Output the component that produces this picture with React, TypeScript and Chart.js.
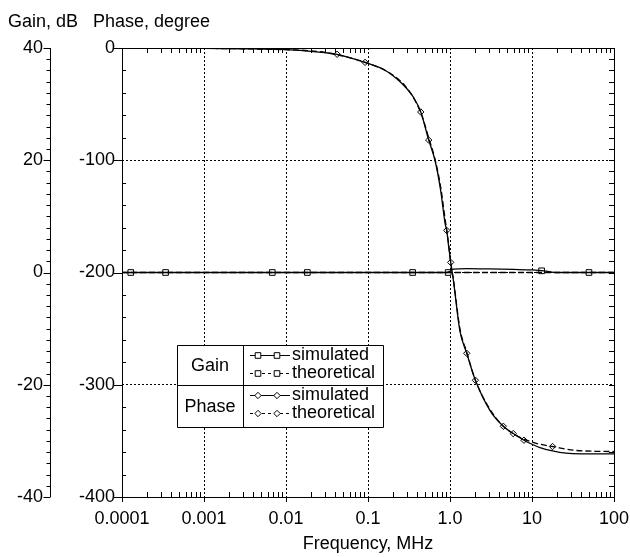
import React, { useEffect, useRef } from 'react';
import { Chart, registerables } from 'chart.js';

Chart.register(...registerables);

const FONT = "'Liberation Sans', Arial, Helvetica, sans-serif";

// ---- axis ticks ----
const xTickValues = [0.0001, 0.001, 0.01, 0.1, 1, 10, 100];
const xTickLabels = ['0.0001', '0.001', '0.01', '0.1', '1.0', '10', '100'];
const gainTickValues = [-40, -20, 0, 20, 40];
const phaseTickValues = [-400, -300, -200, -100, 0];

// ---- gain (dB) ----
const gainSimFreq = [0.0001, 0.5, 0.9, 1.0, 1.1, 1.6, 3, 6, 10, 14, 20, 100];
const gainSimDb = [0, 0, 0, 0.2, 0.6, 0.7, 0.65, 0.55, 0.45, 0.3, 0, 0];
const gainTheoFreq = [0.0001, 1, 10, 100];
const gainTheoDb = [0, 0, 0, 0];

const gainSimMarkFreq = [0.000128, 0.0068, 0.35, 13.1];
const gainSimMarkDb = [0, 0, 0, 0.3];
const gainTheoMarkFreq = [0.00034, 0.0182, 0.95, 49.5];
const gainTheoMarkDb = [0, 0, 0, 0];

// ---- phase (degree) ----
const phaseSimFreq = [0.0001, 0.001, 0.003, 0.01, 0.02, 0.03, 0.042, 0.092, 0.15, 0.2, 0.25, 0.3, 0.356, 0.44, 0.55, 0.656, 0.77, 0.87, 0.912, 0.96, 1.02, 1.1, 1.32, 1.6, 2.04, 3.08, 4.47, 5.9, 7.98, 10, 12.5, 17.8, 26, 40, 100];
const phaseSimDeg = [0, -0.3, -0.7, -1.5, -3, -4.2, -5.6, -12.8, -18.5, -24.5, -30.5, -36.5, -43.5, -57, -82, -100, -127, -156, -162.5, -176, -191, -207, -252, -272, -296, -323, -337, -343.5, -349.4, -353, -356, -359, -361, -361.5, -361.5];
const phaseTheoFreq = [0.0001, 0.01, 0.03, 0.092, 0.2, 0.3, 0.44, 0.55, 0.656, 0.77, 0.87, 0.96, 1.02, 1.1, 1.32, 1.6, 2.04, 3.08, 4.47, 5.9, 7.98, 10, 12.5, 17.8, 32, 60, 100];
const phaseTheoDeg = [0, -1.5, -4, -12.8, -24, -36, -57.5, -80, -99, -124, -152, -174, -191, -206, -250, -271, -296, -322, -337, -343.5, -348.5, -351, -353, -355, -358.3, -359.3, -359.5];

const phaseSimMarkFreq = [0.042, 0.44, 0.912, 1.6, 4.47, 7.98];
const phaseSimMarkDeg = [-5.6, -57, -162.5, -272, -337, -349.4];
const phaseTheoMarkFreq = [0.092, 0.55, 1.02, 2.04, 5.9, 17.8];
const phaseTheoMarkDeg = [-12.8, -82, -191, -296, -343.5, -355];

// ---- text ----
const xTitle = 'Frequency, MHz';
const gainTitle = 'Gain, dB';
const phaseTitle = 'Phase, degree';
const legendGroups = ['Gain', 'Phase'];
const legendEntries = ['simulated', 'theoretical'];

const pts = (xs: number[], ys: number[]) => xs.map((x, i) => ({ x, y: ys[i] }));

const DASH = [6, 3];

function drawMarker(ctx: CanvasRenderingContext2D, kind: 'rect' | 'diamond', x: number, y: number) {
  ctx.save();
  ctx.setLineDash([]);
  ctx.beginPath();
  if (kind === 'rect') {
    ctx.rect(x - 2.8, y - 2.8, 5.6, 5.6);
  } else {
    ctx.moveTo(x, y - 3.2);
    ctx.lineTo(x + 3.2, y);
    ctx.lineTo(x, y + 3.2);
    ctx.lineTo(x - 3.2, y);
    ctx.closePath();
  }
  ctx.fillStyle = '#fff';
  ctx.fill();
  ctx.strokeStyle = '#000';
  ctx.lineWidth = 1;
  ctx.stroke();
  ctx.restore();
}

const framePlugin = {
  id: 'frame',
  afterDraw(chart: any) {
    const ctx: CanvasRenderingContext2D = chart.ctx;
    const xs = chart.scales.x;
    const yp = chart.scales.phase;
    const yg = chart.scales.gain;
    const { left, right, top, bottom } = chart.chartArea;
    const r = (v: number) => Math.round(v) + 0.5;
    ctx.save();
    ctx.strokeStyle = '#000';
    ctx.lineWidth = 1;
    ctx.setLineDash([]);

    // plot frame
    ctx.strokeRect(r(left), r(top), Math.round(right) - Math.round(left), Math.round(bottom) - Math.round(top));

    ctx.beginPath();
    // x minor/major ticks
    for (let d = -4; d <= 2; d++) {
      const dec = Math.pow(10, d);
      const px = r(xs.getPixelForValue(dec));
      ctx.moveTo(px, bottom);
      ctx.lineTo(px, bottom + 5);
      if (d === 2) break;
      for (let m = 2; m <= 9; m++) {
        const p = r(xs.getPixelForValue(m * dec));
        ctx.moveTo(p, top);
        ctx.lineTo(p, top + 5);
        ctx.moveTo(p, bottom);
        ctx.lineTo(p, bottom - 5);
      }
    }
    // phase axis ticks
    for (let v = -400; v <= 0; v += 20) {
      const py = r(yp.getPixelForValue(v));
      if (v % 100 === 0) {
        ctx.moveTo(left - 8, py);
        ctx.lineTo(left, py);
      } else {
        ctx.moveTo(left, py);
        ctx.lineTo(left + 4, py);
      }
    }
    // gain axis line + ticks, right side ticks
    const gx = r(yg.right);
    ctx.moveTo(gx, top);
    ctx.lineTo(gx, bottom);
    for (let v = -40; v <= 40; v += 2) {
      const py = r(yg.getPixelForValue(v));
      if (v % 20 === 0) {
        ctx.moveTo(gx - 7, py);
        ctx.lineTo(gx, py);
      } else {
        ctx.moveTo(gx - 4, py);
        ctx.lineTo(gx, py);
      }
      ctx.moveTo(right - 5, py);
      ctx.lineTo(right, py);
    }
    ctx.stroke();

    // axis titles on top
    ctx.fillStyle = '#000';
    ctx.font = `18px ${FONT}`;
    ctx.textBaseline = 'middle';
    ctx.textAlign = 'left';
    ctx.fillText(gainTitle, 8, 22);
    ctx.fillText(phaseTitle, 93, 22);

    // legend table
    const lx0 = 177.5, lx1 = 383.5, ly0 = 345.5, ly1 = 427.5, ldiv = 243.5, lmid = 385.5;
    ctx.fillStyle = '#fff';
    ctx.fillRect(lx0, ly0, lx1 - lx0, ly1 - ly0);
    ctx.beginPath();
    ctx.rect(lx0, ly0, lx1 - lx0, ly1 - ly0);
    ctx.moveTo(ldiv, ly0);
    ctx.lineTo(ldiv, ly1);
    ctx.moveTo(lx0, lmid);
    ctx.lineTo(lx1, lmid);
    ctx.stroke();

    ctx.fillStyle = '#000';
    ctx.textAlign = 'center';
    ctx.fillText(legendGroups[0], 210, 366);
    ctx.fillText(legendGroups[1], 210, 407);
    const rows = [355, 373, 395, 413];
    rows.forEach((yy, i) => {
      const kind = i < 2 ? 'rect' : 'diamond';
      const dashed = i % 2 === 1;
      ctx.save();
      ctx.beginPath();
      ctx.setLineDash(dashed ? [3, 3] : []);
      ctx.moveTo(250, yy + 0.5);
      ctx.lineTo(290, yy + 0.5);
      ctx.stroke();
      ctx.restore();
      drawMarker(ctx, kind as any, 258, yy + 0.5);
      drawMarker(ctx, kind as any, 277, yy + 0.5);
      ctx.fillStyle = '#000';
      ctx.textAlign = 'left';
      ctx.fillText(legendEntries[i % 2], 292, yy);
    });
    ctx.restore();
  },
};

export default function App() {
  const ref = useRef<HTMLCanvasElement>(null);
  useEffect(() => {
    const lineDs = (label: string, data: any, axis: string, dashed: boolean) => ({
      label,
      data,
      yAxisID: axis,
      showLine: true,
      borderColor: '#000',
      backgroundColor: '#000',
      borderWidth: 1.3,
      borderDash: dashed ? DASH : [],
      pointRadius: 0,
      fill: false,
      cubicInterpolationMode: 'monotone',
    });
    const markDs = (label: string, data: any, axis: string, style: string, radius: number) => ({
      label,
      data,
      yAxisID: axis,
      showLine: false,
      pointStyle: style,
      pointRadius: radius,
      pointBackgroundColor: '#fff',
      pointBorderColor: '#000',
      pointBorderWidth: 1,
    });
    const chart = new Chart(ref.current as HTMLCanvasElement, {
      type: 'scatter',
      data: {
        datasets: [
          lineDs('Gain simulated', pts(gainSimFreq, gainSimDb), 'gain', false),
          lineDs('Gain theoretical', pts(gainTheoFreq, gainTheoDb), 'gain', true),
          lineDs('Phase simulated', pts(phaseSimFreq, phaseSimDeg), 'phase', false),
          lineDs('Phase theoretical', pts(phaseTheoFreq, phaseTheoDeg), 'phase', true),
          markDs('Gain sim marks', pts(gainSimMarkFreq, gainSimMarkDb), 'gain', 'rect', 4),
          markDs('Gain theo marks', pts(gainTheoMarkFreq, gainTheoMarkDb), 'gain', 'rect', 4),
          markDs('Phase sim marks', pts(phaseSimMarkFreq, phaseSimMarkDeg), 'phase', 'rectRot', 3.2),
          markDs('Phase theo marks', pts(phaseTheoMarkFreq, phaseTheoMarkDeg), 'phase', 'rectRot', 3.2),
        ] as any,
      },
      options: {
        animation: false,
        responsive: false,
        devicePixelRatio: 1,
        layout: { padding: { left: 0, right: 16, top: 48, bottom: 0 } },
        plugins: { legend: { display: false }, tooltip: { enabled: false }, title: { display: false } },
        scales: {
          x: {
            type: 'logarithmic',
            position: 'bottom',
            min: 0.0001,
            max: 100,
            afterBuildTicks: (s: any) => {
              s.ticks = xTickValues.map((v) => ({ value: v }));
            },
            afterFit: (s: any) => {
              s.height = 60;
              s.paddingLeft = 0;
              s.paddingRight = 0;
            },
            ticks: {
              autoSkip: false,
              maxRotation: 0,
              padding: 11,
              color: '#000',
              font: { family: FONT, size: 18 },
              callback: (_v: any, i: number) => xTickLabels[i],
            },
            grid: { color: '#000', lineWidth: 1, drawTicks: false },
            border: { display: false, dash: [2, 2] },
            title: {
              display: true,
              text: xTitle,
              color: '#000',
              font: { family: FONT, size: 18 },
              padding: { top: 0, bottom: 2 },
            },
          },
          gain: {
            type: 'linear',
            position: 'left',
            weight: 1,
            min: -40,
            max: 40,
            afterBuildTicks: (s: any) => {
              s.ticks = gainTickValues.map((v) => ({ value: v }));
            },
            afterFit: (s: any) => {
              s.width = 50;
            },
            ticks: {
              padding: 7,
              color: '#000',
              font: { family: FONT, size: 18 },
              callback: (v: any) => String(v),
            },
            grid: { display: false, drawTicks: false },
            border: { display: false },
          },
          phase: {
            type: 'linear',
            position: 'left',
            weight: 0,
            min: -400,
            max: 0,
            afterBuildTicks: (s: any) => {
              s.ticks = phaseTickValues.map((v) => ({ value: v }));
            },
            afterFit: (s: any) => {
              s.width = 72;
            },
            ticks: {
              padding: 7,
              color: '#000',
              font: { family: FONT, size: 18 },
              callback: (v: any) => String(v),
            },
            grid: { color: '#000', lineWidth: 1, drawTicks: false },
            border: { display: false, dash: [2, 2] },
          },
        },
      } as any,
      plugins: [framePlugin],
    });
    return () => chart.destroy();
  }, []);
  return (
    <div style={{ position: 'fixed', left: 0, top: 0, width: 630, height: 557, background: '#fff' }}>
      <canvas ref={ref} width={630} height={557} style={{ width: 630, height: 557, display: 'block' }} />
    </div>
  );
}
